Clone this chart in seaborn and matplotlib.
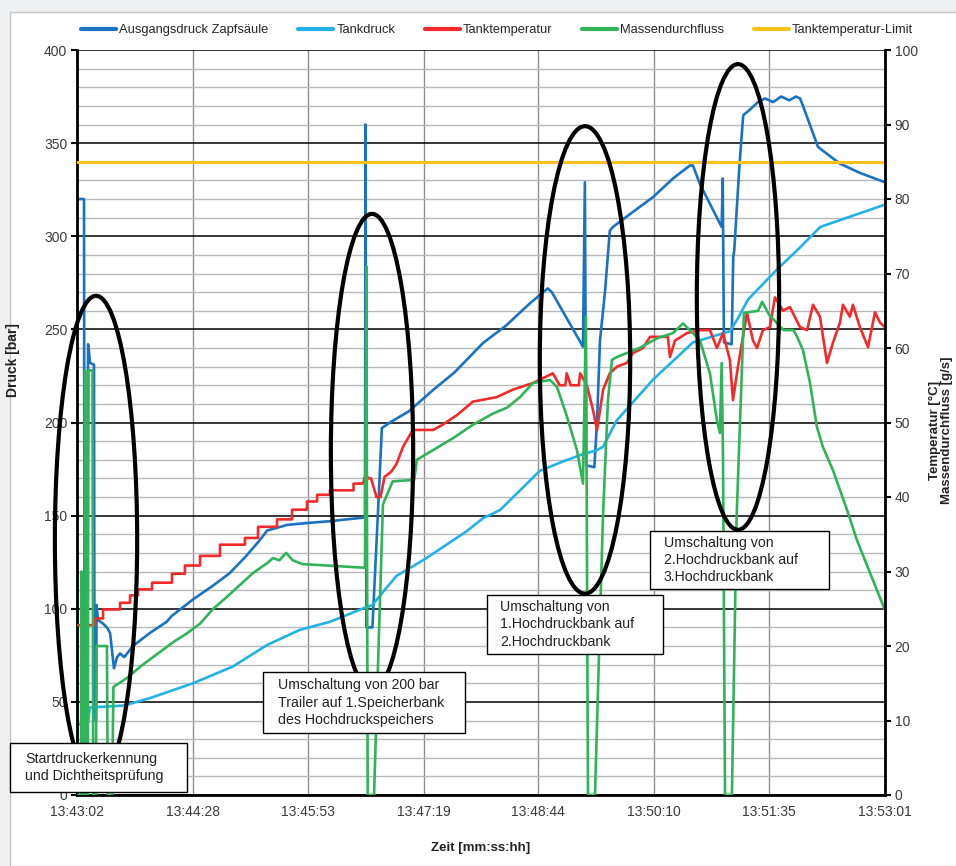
import numpy as np
import pandas as pd
import seaborn as sns
import matplotlib.pyplot as plt
from matplotlib.patches import Ellipse, Rectangle
from matplotlib.lines import Line2D

# time axis: seconds after 13:43:02
tick_pos = [0, 86, 171, 257, 342, 428, 513, 599]
tick_labels = ["13:43:02", "13:44:28", "13:45:53", "13:47:19",
               "13:48:44", "13:50:10", "13:51:35", "13:53:01"]

# Ausgangsdruck Zapfsaeule [bar]
ausgang_t = [0, 5.2, 5.6, 7.4, 8.2, 8.9, 9.6, 12.6, 13.0, 14.1, 14.5, 15.6, 19.3, 22.2,
             24.5, 25.9, 27.4, 29.7, 31.9, 35, 41.5, 54, 66.5, 70, 86, 100, 113, 125,
             135.7, 141, 155.7, 170, 187.5, 200, 213.5, 213.9, 214.5, 219, 223, 226,
             232, 246, 263.9, 280, 301, 318, 335.8, 349, 352, 375.1, 376.5, 377.5,
             383.5, 385.5, 387.7, 391.4, 395, 397.3, 412, 427, 441.8, 454.4, 456.6,
             461.8, 477.9, 478.7, 479.6, 485.3, 486.5, 487.2, 491, 493.9, 498.9, 504.8,
             510, 516, 522, 528, 533, 536, 538.2, 549.3, 558.2, 565.6, 580.4, 599]
ausgang_p = [320, 320, 40, 40, 242, 238, 232, 231, 40, 40, 102, 94, 92, 90,
             87, 78, 68, 74, 76, 74, 80, 87, 93, 96, 105, 112, 119, 128,
             137, 142, 145, 146, 147, 148, 149, 360, 90, 90, 150, 197,
             200, 206, 217.4, 227, 242.7, 252, 264, 272, 270, 240.7, 329, 177,
             176, 200, 244, 270, 303, 305, 313, 321, 331, 338, 338,
             328, 305, 331, 243, 242, 289, 292, 337, 365, 368, 372,
             374, 372, 375, 373, 375, 374, 370, 348, 343, 339, 334, 329]

# Tankdruck [bar]
tank_t = [0, 8, 9.5, 34.5, 54, 70, 86, 115.6, 140.8, 165, 187.5, 213.5, 219, 228,
          236.8, 258, 289, 301, 313.6, 343, 360, 375, 385, 390, 400, 427, 456.6,
          484, 490, 497.4, 518.7, 536, 551, 575, 599]
tank_p = [38, 38, 47, 48, 52, 56, 60, 69, 80.5, 88.6, 93, 100.6, 102, 110,
          117.6, 126.7, 141.7, 148.6, 153, 174, 179, 183, 185, 187, 201, 223, 243,
          249, 256, 266, 282, 294, 305, 311, 317]

# Tanktemperatur [degC]
temp_t = [0, 13.3, 13.3, 19.3, 19.3, 31.9, 31.9, 39.3, 39.3, 45.2, 45.2, 55.6, 55.6,
          70.4, 70.4, 80, 80, 91.2, 91.2, 106, 106, 124.5, 124.5, 134.2, 134.2, 148.3,
          148.3, 159.4, 159.4, 170.5, 170.5, 178, 178, 187.5, 187.5, 205, 205, 212,
          214, 216, 218, 222, 225, 228, 233, 237, 241.6, 245.4, 249, 264, 271, 281.7,
          293.5, 311, 323, 338, 352.8, 357.8, 362, 363, 366, 372, 373, 378, 382.5,
          385.5, 390, 395, 400.3, 407.7, 412, 419.6, 424.8, 438, 439.6, 443.3, 452.2,
          461.8, 469.2, 474.4, 478.9, 484, 486.3, 490, 496.7, 501.1, 504.1, 508.5,
          513.7, 517.4, 523.4, 528.5, 536, 541.2, 545.6, 550.8, 556, 560.4, 565.6,
          567.8, 573, 575.2, 580.4, 586.4, 591.6, 595.3, 599]
temp_c = [22.8, 22.8, 23.7, 23.7, 24.9, 24.9, 25.8, 25.8, 26.8, 26.8, 27.6, 27.6, 28.5,
          28.5, 29.7, 29.7, 30.8, 30.8, 32.1, 32.1, 33.6, 33.6, 34.5, 34.5, 36.0, 36.0,
          37.0, 37.0, 38.3, 38.3, 39.4, 39.4, 40.3, 40.3, 40.9, 40.9, 41.8, 41.8,
          43, 42.5, 42.5, 40, 40, 42.7, 43.4, 44.5, 46.7, 47.9, 49, 49, 49.7, 51,
          52.8, 53.4, 54.4, 55.3, 56.6, 55, 55, 56.6, 55, 55, 56.6, 55, 51.7,
          49, 54.4, 56.6, 57.5, 58, 59.3, 60, 61.5, 61.5, 58.8, 61, 62,
          62.4, 62.4, 60, 62, 58.4, 53, 57.5, 64.7, 61, 60, 62.4,
          62.8, 66.8, 65, 65.5, 62.8, 62.4, 65.8, 64.2, 58, 60.7, 63.4,
          65.8, 64.2, 65.8, 62.8, 60.1, 64.8, 63.4, 62.8]

# Massendurchfluss [g/s]
flow_t = [0, 3, 3.3, 3.7, 5.5, 6, 6.5, 8, 8.5, 11.5, 12, 14, 14.5, 22.2, 22.8, 26, 27,
          37, 46.7, 56.3, 71.2, 81.5, 91.2, 101, 111.2, 120.8, 130.5, 140.8, 145.3,
          150, 155, 160, 167, 213.5, 214.5, 215.5, 220.2, 226.8, 234, 250, 252, 264,
          278.8, 293.5, 308.4, 318.8, 328.4, 338, 350.6, 355.8, 363.2, 370.6, 375.1,
          377.3, 378.8, 384, 389.9, 393.6, 396.6, 400.3, 417, 430, 441.8, 449.2, 456.6,
          461.8, 469.2, 474.4, 476.6, 477.9, 478.9, 480.4, 485.5, 489, 494.4, 505,
          507.9, 513, 518.6, 523.8, 531.2, 533.9, 538.2, 543.4, 548.5, 553, 560.4,
          570.8, 578.2, 599]
flow_g = [0, 0, 30, 0, 0, 57, 0, 0, 57, 57, 0, 0, 20, 20, 0, 0, 14.5,
          15.7, 17.2, 18.5, 20.5, 21.7, 23, 25, 26.6, 28.2, 29.8, 31.1, 31.8,
          31.5, 32.5, 31.5, 31.0, 30.5, 71, 0, 0, 39, 42.1, 42.3, 45, 46.3,
          47.9, 49.7, 51.2, 52, 53.4, 55.3, 55.7, 54.8, 50.8, 46.3, 41.8,
          64.2, 0, 0, 37.3, 53, 58.4, 58.8, 60, 61.3, 62, 63.3, 62,
          61, 56.6, 50.3, 48.6, 58, 45.4, 0, 0, 37.3, 64.7, 65,
          66.2, 64.5, 63.4, 62.4, 62.4, 61.5, 59.7, 55.3, 49.4, 46.7, 43.6,
          38.3, 34.2, 24.8]

limit_c = 85

series_names = ["Ausgangsdruck Zapfsäule", "Tankdruck", "Tanktemperatur",
                "Massendurchfluss", "Tanktemperatur-Limit"]
series_colors = ["#1a72c2", "#21b2ea", "#f42a2a", "#2fb45a", "#ffc21a"]

notes = ["Startdruckerkennung\nund Dichtheitsprüfung",
         "Umschaltung von 200 bar\nTrailer auf 1.Speicherbank\ndes Hochdruckspeichers",
         "Umschaltung von\n1.Hochdruckbank auf\n2.Hochdruckbank",
         "Umschaltung von\n2.Hochdruckbank auf\n3.Hochdruckbank"]
# ellipse centre (s, bar), width (s), height (bar)
ellipses = [(14.1, 137, 61, 262), (218.7, 184, 61, 256),
            (376.6, 233.6, 67, 251), (490, 267.4, 61, 250)]

sns.set_style("white")
plt.rcParams["font.family"] = ["Liberation Sans", "DejaVu Sans"]

fig = plt.figure(figsize=(9.56, 8.66), dpi=100, facecolor="#eff0f2")
fig.patches.append(Rectangle((10 / 956, 0), 1, 1 - 12 / 866, transform=fig.transFigure,
                             facecolor="white", edgecolor="#c4c4c4", lw=1, zorder=-10))

ax = fig.add_axes([77 / 956, 71 / 866, 808 / 956, 745 / 866])
ax2 = ax.twinx()

df_a = pd.DataFrame({"t": ausgang_t, "v": ausgang_p})
df_k = pd.DataFrame({"t": tank_t, "v": tank_p})
df_c = pd.DataFrame({"t": temp_t, "v": temp_c})
df_f = pd.DataFrame({"t": flow_t, "v": flow_g})

lw = 1.9
sns.lineplot(data=df_a, x="t", y="v", ax=ax, color=series_colors[0], lw=lw,
             estimator=None, sort=False)
sns.lineplot(data=df_k, x="t", y="v", ax=ax, color=series_colors[1], lw=lw,
             estimator=None, sort=False)
sns.lineplot(data=df_c, x="t", y="v", ax=ax2, color=series_colors[2], lw=lw,
             estimator=None, sort=False)
sns.lineplot(data=df_f, x="t", y="v", ax=ax2, color=series_colors[3], lw=lw,
             estimator=None, sort=False)
ax2.axhline(limit_c, color=series_colors[4], lw=2.2)

ax.set_xlim(0, 599)
ax.set_ylim(0, 400)
ax2.set_ylim(0, 100)

ax.set_xticks(tick_pos)
ax.set_xticklabels(tick_labels)
ax.set_yticks(range(0, 401, 50))
ax.set_yticks(range(0, 401, 10), minor=True)
ax2.set_yticks(range(0, 101, 10))

ax.grid(which="minor", axis="y", color="#b9b9b9", lw=1)
ax.grid(which="major", axis="y", color="black", lw=1.1)
ax.grid(which="major", axis="x", color="#8f8f8f", lw=1)
ax.set_axisbelow(True)

for a in (ax, ax2):
    a.tick_params(axis="both", which="major", direction="out", length=4, width=1.5,
                  color="black", labelsize=10, labelcolor="#3a3a3a", pad=3)
    a.tick_params(which="minor", length=0)
    for s in a.spines.values():
        s.set_visible(False)
ax.spines["left"].set_visible(True)
ax.spines["bottom"].set_visible(True)
ax.spines["left"].set_linewidth(2)
ax.spines["bottom"].set_linewidth(2)
ax.spines["left"].set_color("black")
ax.spines["bottom"].set_color("black")
ax2.spines["right"].set_visible(True)
ax2.spines["right"].set_linewidth(2)
ax2.spines["right"].set_color("black")

ax.set_xlabel("Zeit [mm:ss:hh]", fontsize=9.5, fontweight="bold", color="#222222")
ax.xaxis.set_label_coords(0.5, -0.063)
ax.set_ylabel("Druck [bar]", fontsize=10, fontweight="bold", color="#222222")
ax.yaxis.set_label_coords(-0.07, 0.584)
ax2.set_ylabel("Temperatur [°C]\nMassendurchfluss [g/s]", fontsize=9.5,
               fontweight="bold", color="#222222", linespacing=1.0)
ax2.yaxis.set_label_coords(1.055, 0.49)

for cx, cy, w, h in ellipses:
    ax2.add_patch(Ellipse((cx, cy), w, h, transform=ax.transData, fill=False,
                          edgecolor="black", lw=3, zorder=5, clip_on=False))

# text boxes, pixel boxes converted to axes fraction
boxes = [(10, 743, 187, 792, 25), (263, 672, 465, 733, 278),
         (487, 595, 663, 654, 500), (650, 531, 829, 589, 664)]
for note, (x0, y0, x1, y1, tx) in zip(notes, boxes):
    fx0 = (x0 - 77) / 808
    fx1 = (x1 - 77) / 808
    fy0 = (795 - y1) / 745
    fy1 = (795 - y0) / 745
    ax2.add_patch(Rectangle((fx0, fy0), fx1 - fx0, fy1 - fy0, transform=ax.transAxes,
                            facecolor="white", edgecolor="black", lw=1, zorder=6,
                            clip_on=False))
    ax2.text((tx - 77) / 808, (fy0 + fy1) / 2, note, transform=ax.transAxes,
             ha="left", va="center", fontsize=10.2, color="#222222", linespacing=1.28,
             zorder=7, clip_on=False)

handles = [Line2D([], [], color=c, lw=3) for c in series_colors]
fig.legend(handles, series_names, loc="center", bbox_to_anchor=(0.52, 1 - 30 / 866),
           ncol=5, frameon=False, fontsize=9.3, handlelength=2.7, handletextpad=0.25,
           columnspacing=2.3)

fig.savefig("out.png", dpi=100, facecolor=fig.get_facecolor())
